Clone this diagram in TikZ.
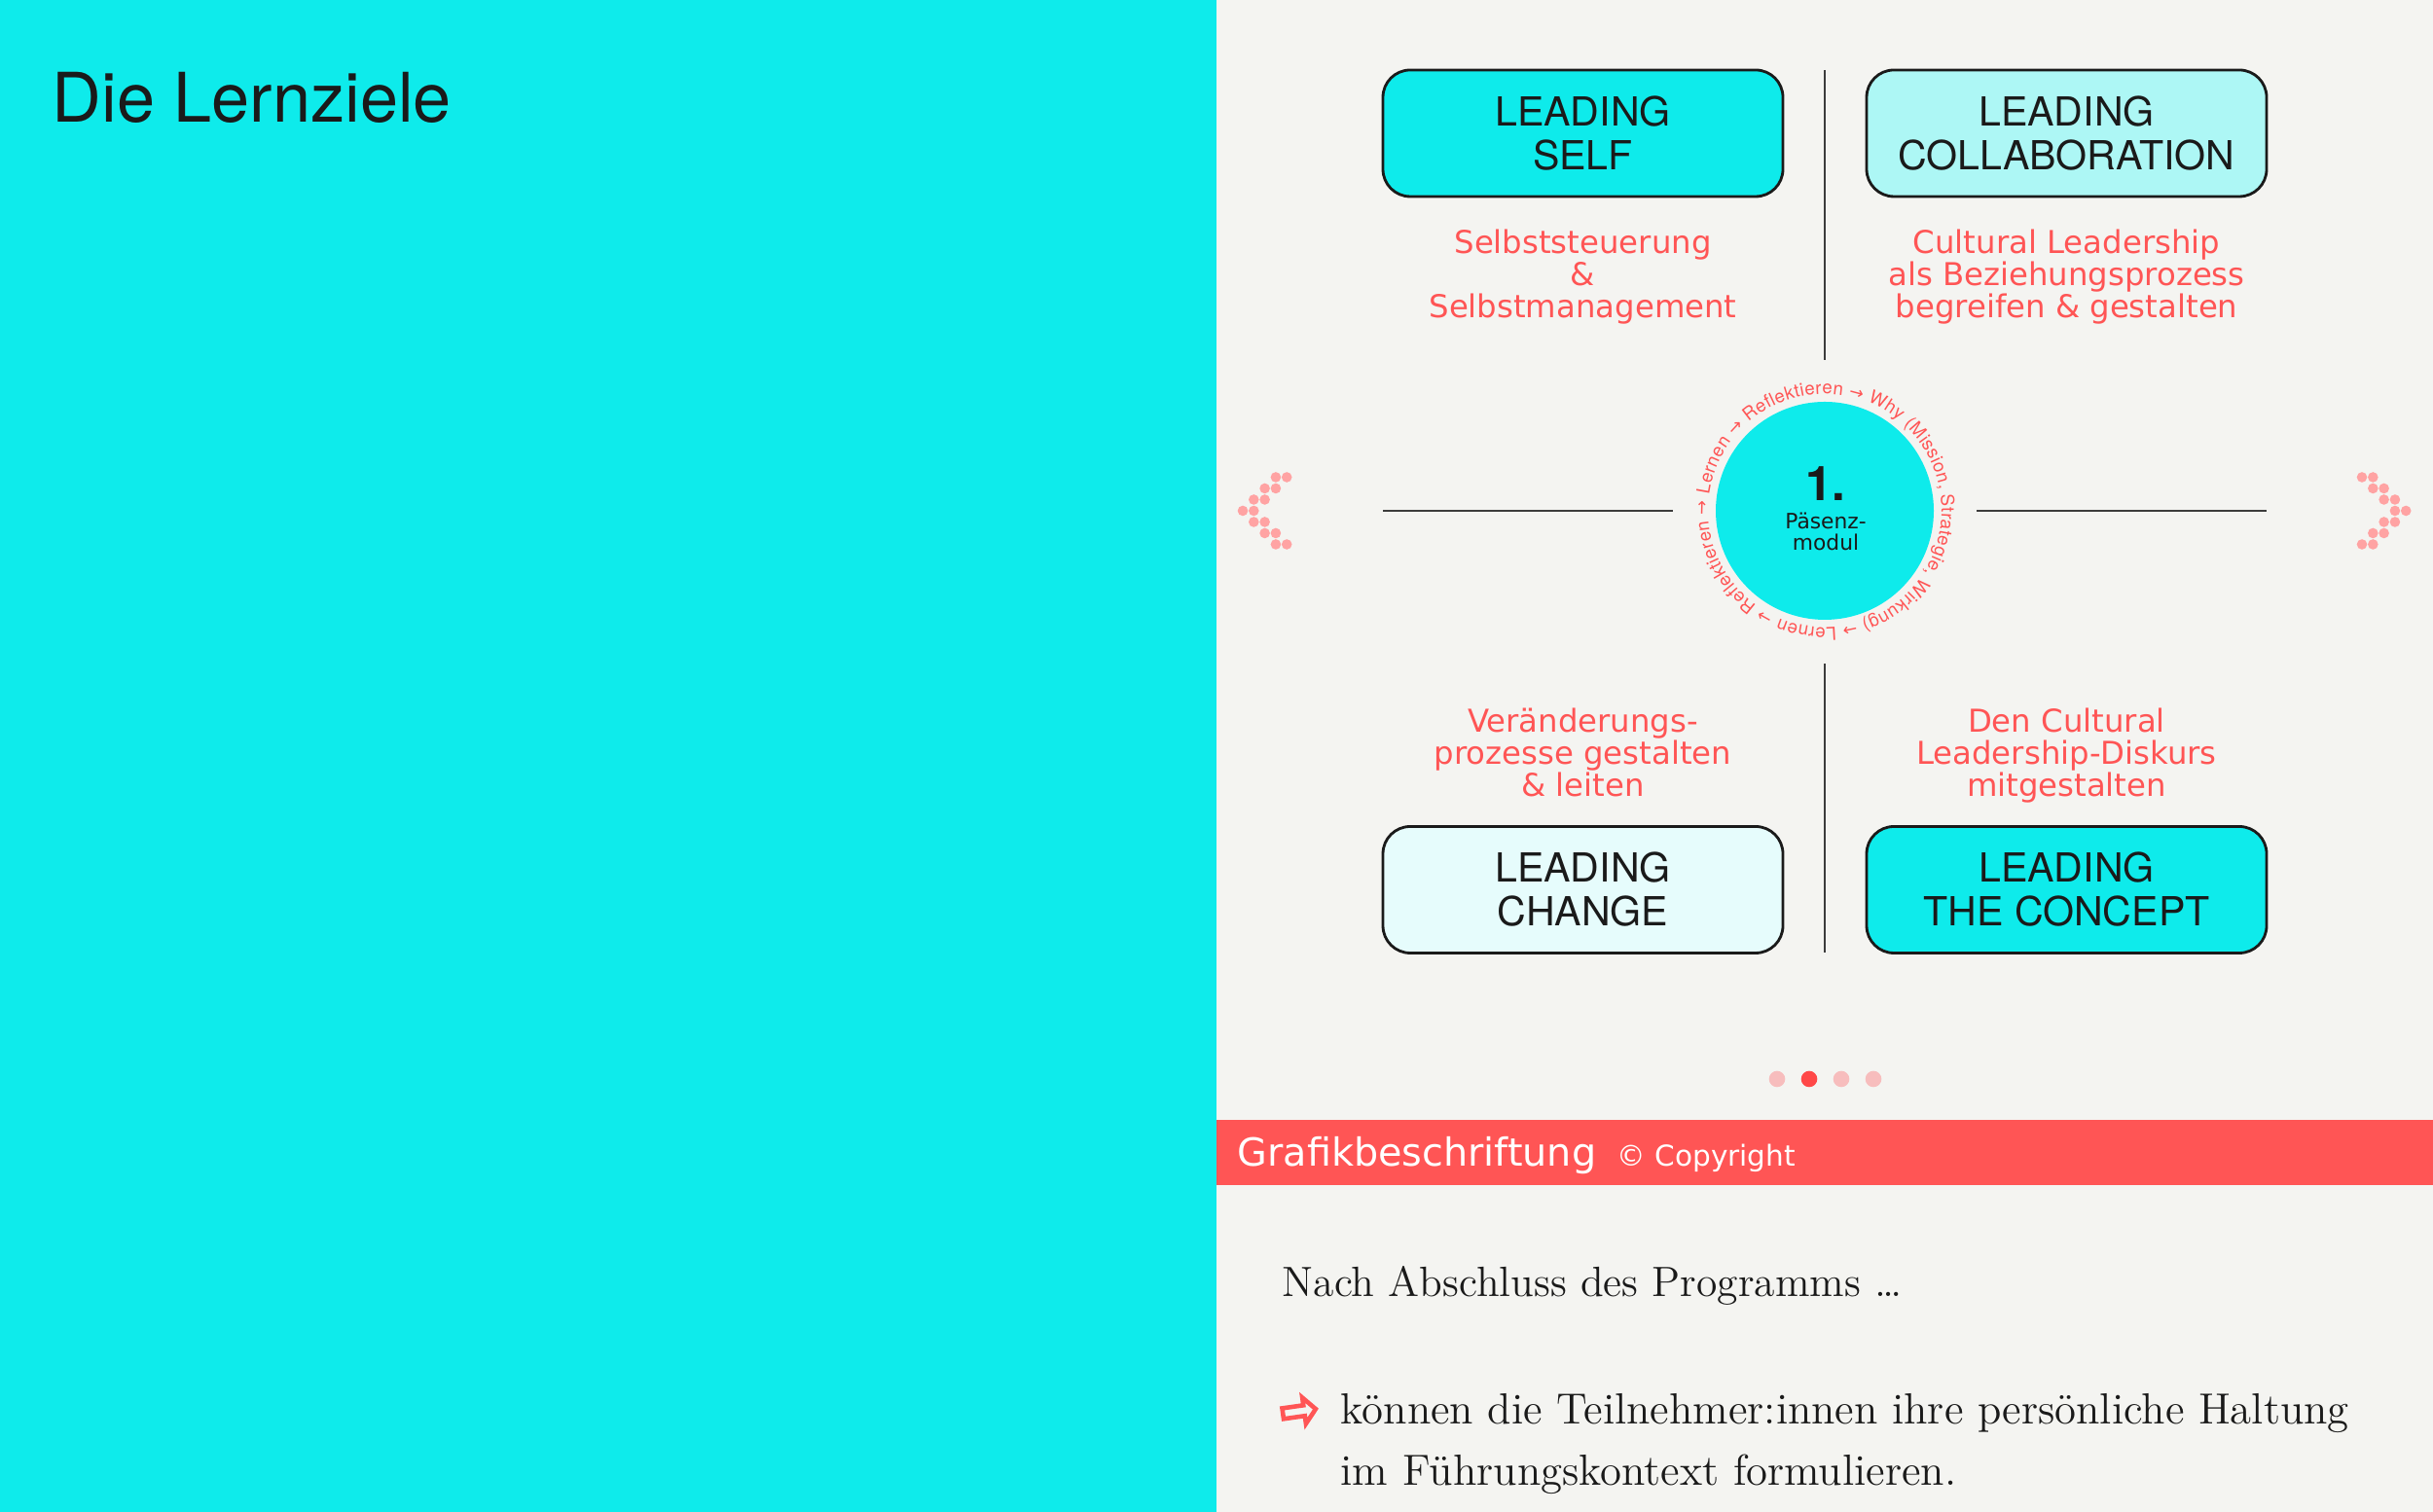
\documentclass[tikz,border=0pt]{standalone}
\usepackage{fontspec}
\setsansfont{TeX Gyre Heros}
\newfontfamily\redfont{DejaVu Sans}
\newfontfamily\arrowfont{DejaVu Sans}
\usetikzlibrary{decorations.text}
\definecolor{aqua}{HTML}{0EEBEB}
\definecolor{aqualight}{HTML}{ADF7F5}
\definecolor{aquapale}{HTML}{E6FCFC}
\definecolor{coral}{HTML}{FF5555}
\definecolor{dotpink}{HTML}{FFA3A3}
\definecolor{pagepink}{HTML}{F7BDBD}
\definecolor{pagered}{HTML}{FF4848}
\definecolor{paper}{HTML}{F4F4F1}
\definecolor{ink}{HTML}{1A1A1A}
\newcommand\ringfont{\sffamily\fontsize{5.3pt}{6pt}\selectfont}
\newcommand\ringarrow{\arrowfont\fontsize{5pt}{6pt}\selectfont}

\begin{document}
\begin{tikzpicture}[
  box/.style={draw=ink, line width=0.8pt, rounded corners=0.28cm, minimum width=4.11cm, minimum height=1.3cm, inner sep=0pt, align=center, text=ink, font=\sffamily\fontsize{11.7pt}{12.8pt}\selectfont},
  aim/.style={anchor=north, align=center, inner sep=0pt, text=coral, font=\redfont\fontsize{9.2pt}{9.4pt}\selectfont},
  divider/.style={draw=ink!85, line width=0.6pt},
  chev/.style={fill=dotpink}
]
\useasboundingbox (0,0) rectangle (25,15.54);
\fill[aqua] (0,0) rectangle (12.5,15.54);
\fill[paper] (12.5,0) rectangle (25,15.54);

\node[anchor=base west, inner sep=0pt, text=ink, font=\sffamily\fontsize{20pt}{24pt}\selectfont] (title) at (0.53,14.28) {Die Lernziele};

\node[box, fill=aqua]      (self)    at (16.265,14.17) {LEADING\\SELF};
\node[box, fill=aqualight] (collab)  at (21.235,14.17) {LEADING\\COLLABORATION};
\node[box, fill=aquapale]  (change)  at (16.265,6.395) {LEADING\\CHANGE};
\node[box, fill=aqua]      (concept) at (21.235,6.395) {LEADING\\THE CONCEPT};

\node[aim] (selfaim)    at (16.265,13.19) {Selbststeuerung\\\&\\Selbstmanagement};
\node[aim] (collabaim)  at (21.235,13.19) {Cultural Leadership\\als Beziehungsprozess\\begreifen \& gestalten};
\node[aim] (changeaim)  at (16.265,8.27) {Veränderungs-\\prozesse gestalten\\\& leiten};
\node[aim] (conceptaim) at (21.235,8.27) {Den Cultural\\Leadership-Diskurs\\mitgestalten};

\coordinate (ntop) at (18.75,14.82);
\coordinate (nmid) at (18.75,11.84);
\coordinate (smid) at (18.75,8.72);
\coordinate (sbot) at (18.75,5.75);
\coordinate (wout) at (14.21,10.29);
\coordinate (win)  at (17.19,10.29);
\coordinate (ein)  at (20.31,10.29);
\coordinate (eout) at (23.29,10.29);
\draw[divider] (ntop) -- (nmid);
\draw[divider] (smid) -- (sbot);
\draw[divider] (wout) -- (win);
\draw[divider] (ein) -- (eout);

\node[circle, fill=aqua, minimum size=2.24cm, inner sep=0pt] (hub) at (18.75,10.29) {};
\node[anchor=base, inner sep=0pt, text=ink, font=\sffamily\bfseries\fontsize{14pt}{16pt}\selectfont] (hubnum) at (18.76,10.39) {1.};
\node[anchor=north, align=center, inner sep=0pt, text=ink, font=\redfont\fontsize{6.2pt}{6.3pt}\selectfont] (hubname) at (18.76,10.28) {Päsenz-\\modul};
\path[decorate, decoration={text along path, text align=fit to path, text color=coral,
  text={|\ringfont|Lernen |\ringarrow|→|\ringfont| Reflektieren |\ringarrow|→|\ringfont| Why (Mission, Strategie, Wirkung) |\ringarrow|→|\ringfont| Lernen |\ringarrow|→|\ringfont| Reflektieren |\ringarrow|→}}]
  (hub.center) ++(172:1.2) arc[start angle=172, end angle=-185, radius=1.2];

\foreach \i in {-3,...,3} {
  \fill[chev] ({12.77+0.113*abs(\i)},{10.29-0.115*\i}) circle (0.053);
  \fill[chev] ({12.883+0.113*abs(\i)},{10.29-0.115*\i}) circle (0.053);
  \fill[chev] ({24.27+0.113*(3-abs(\i))},{10.29-0.115*\i}) circle (0.053);
  \fill[chev] ({24.383+0.113*(3-abs(\i))},{10.29-0.115*\i}) circle (0.053);
}

\foreach \x in {18.26,18.92,19.25}
  \fill[pagepink] (\x,4.45) circle (0.083);
\fill[pagered] (18.59,4.45) circle (0.083);

\fill[coral] (12.5,3.36) rectangle (25,4.03);
\node[anchor=base west, inner sep=0pt, text=white, font=\redfont\fontsize{11.3pt}{12pt}\selectfont] (caption) at (12.71,3.55) {Grafikbeschriftung};
\node[anchor=base west, inner sep=0pt, text=white, font=\redfont\fontsize{8.4pt}{9pt}\selectfont] (copy) at (16.61,3.55) {© Copyright};

\node[anchor=base west, inner sep=0pt, text=ink, font=\rmfamily\fontsize{12.4pt}{17.9pt}\selectfont] (lead) at (13.17,2.21) {Nach Abschluss des Programms~\ldots};
\draw[coral, line width=1.3pt, rotate around={8:(13.35,1.04)}]
  (13.18,1.09) -- (13.40,1.09) -- (13.40,1.17) -- (13.52,1.035) -- (13.40,0.90) -- (13.40,0.98) -- (13.18,0.98) -- cycle;
\node[anchor=north west, align=left, inner sep=0pt, text=ink, font=\rmfamily\fontsize{12.75pt}{17.9pt}\selectfont] (goal) at (13.77,1.22) {können die Teilnehmer:innen ihre persönliche Haltung\\im Führungskontext formulieren.};
\end{tikzpicture}
\end{document}
